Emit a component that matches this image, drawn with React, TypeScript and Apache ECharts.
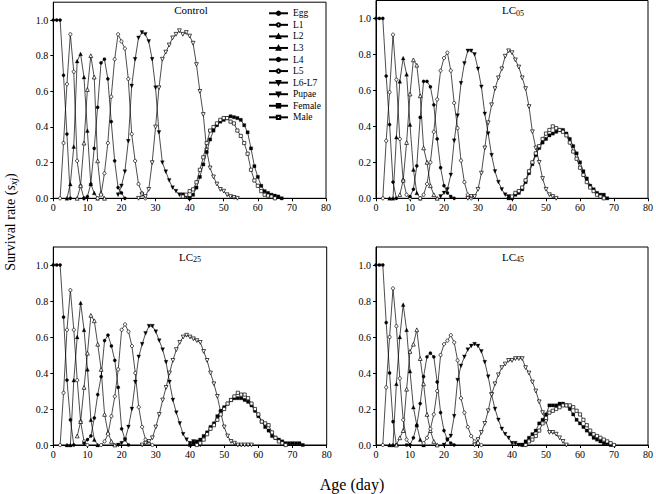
import React, { useEffect, useRef } from "react";
import * as echarts from "echarts";

const FONT = "Liberation Serif";

const stages = ["Egg", "L1", "L2", "L3", "L4", "L5", "L6-L7", "Pupae", "Female", "Male"];
const xTicks = [0, 10, 20, 30, 40, 50, 60, 70, 80];
const yTicks = [0, 0.2, 0.4, 0.6, 0.8, 1.0];

// ---- Control (first day of each stage's series, then daily values) ----
const controlStart = [0, 2, 4, 7, 9, 13, 19, 25, 40, 38];
const controlEgg = [1, 1, 1, 0.69, 0.36, 0];
const controlL1 = [0, 0.31, 0.64, 0.92, 0.71, 0.21, 0.07, 0];
const controlL2 = [0, 0.08, 0.29, 0.77, 0.81, 0.68, 0.38, 0.08, 0.03, 0];
const controlL3 = [0, 0.07, 0.31, 0.61, 0.8, 0.68, 0.21, 0.03, 0];
const controlL4 = [0, 0.01, 0.08, 0.28, 0.51, 0.76, 0.78, 0.67, 0.43, 0.21, 0.06, 0.03, 0];
const controlL5 = [0, 0.02, 0.14, 0.31, 0.57, 0.78, 0.92, 0.88, 0.84, 0.67, 0.36, 0.21, 0.08, 0.03, 0];
const controlL6 = [0.02, 0.07, 0.15, 0.32, 0.63, 0.78, 0.9, 0.93, 0.92, 0.88, 0.78, 0.62, 0.37, 0.2, 0.15, 0.1, 0.06, 0.04, 0.02, 0.02, 0.01, 0];
const controlPupae = [0, 0.02, 0.01, 0.05, 0.2, 0.4, 0.62, 0.78, 0.82, 0.86, 0.9, 0.92, 0.94, 0.92, 0.93, 0.91, 0.87, 0.75, 0.6, 0.47, 0.27, 0.17, 0.12, 0.08, 0.05, 0.04, 0.02, 0.01, 0.005, 0];
const controlFemale = [0, 0.02, 0.06, 0.12, 0.19, 0.26, 0.33, 0.38, 0.41, 0.43, 0.44, 0.45, 0.46, 0.455, 0.45, 0.44, 0.41, 0.37, 0.28, 0.18, 0.12, 0.07, 0.04, 0.03, 0.02, 0.015, 0.01, 0];
const controlMale = [0.01, 0.02, 0.04, 0.05, 0.09, 0.16, 0.23, 0.31, 0.38, 0.4, 0.42, 0.44, 0.45, 0.45, 0.43, 0.42, 0.38, 0.35, 0.31, 0.25, 0.16, 0.1, 0.07, 0.04, 0.02, 0.015, 0.01, 0];

// ---- LC05 ----
const lc05Start = [0, 2, 4, 7, 10, 13, 19, 27, 39, 40];
const lc05Egg = [1, 1, 1, 0.68, 0.41, 0.09, 0];
const lc05L1 = [0, 0.32, 0.59, 0.91, 0.66, 0.33, 0.1, 0.02, 0];
const lc05L2 = [0, 0, 0.34, 0.65, 0.78, 0.69, 0.41, 0.16, 0.03, 0];
const lc05L3 = [0.02, 0.1, 0.31, 0.58, 0.77, 0.74, 0.57, 0.28, 0.2, 0.07, 0.02, 0];
const lc05L4 = [0.01, 0.05, 0.18, 0.45, 0.65, 0.65, 0.62, 0.52, 0.33, 0.17, 0.07, 0.03, 0.01, 0];
const lc05L5 = [0, 0.02, 0.08, 0.2, 0.37, 0.55, 0.71, 0.78, 0.81, 0.71, 0.53, 0.39, 0.21, 0.09, 0.02, 0];
const lc05L6 = [0.01, 0.03, 0.05, 0.13, 0.32, 0.46, 0.64, 0.75, 0.82, 0.82, 0.8, 0.72, 0.62, 0.47, 0.36, 0.24, 0.15, 0.09, 0.05, 0.02, 0.01, 0];
const lc05Pupae = [0, 0.01, 0.01, 0.05, 0.14, 0.28, 0.42, 0.52, 0.61, 0.67, 0.72, 0.79, 0.82, 0.81, 0.77, 0.73, 0.67, 0.61, 0.51, 0.37, 0.28, 0.2, 0.11, 0.05, 0.02, 0.01, 0];
const lc05Female = [0, 0, 0.02, 0.03, 0.05, 0.09, 0.14, 0.19, 0.24, 0.28, 0.31, 0.33, 0.35, 0.36, 0.37, 0.38, 0.38, 0.36, 0.33, 0.29, 0.25, 0.2, 0.15, 0.11, 0.07, 0.05, 0.03, 0.02, 0.02, 0];
const lc05Male = [0.01, 0.03, 0.04, 0.06, 0.1, 0.15, 0.2, 0.25, 0.29, 0.33, 0.36, 0.38, 0.4, 0.39, 0.38, 0.37, 0.35, 0.31, 0.26, 0.22, 0.17, 0.13, 0.09, 0.06, 0.04, 0.02, 0.01, 0];

// ---- LC25 ----
const lc25Start = [0, 2, 4, 7, 9, 14, 19, 26, 40, 42];
const lc25Egg = [1, 1, 1, 0.71, 0.36, 0.14, 0];
const lc25L1 = [0, 0.29, 0.64, 0.86, 0.64, 0.36, 0.13, 0.02, 0];
const lc25L2 = [0, 0, 0.36, 0.6, 0.79, 0.64, 0.42, 0.14, 0.03, 0];
const lc25L3 = [0.05, 0.13, 0.32, 0.51, 0.72, 0.69, 0.56, 0.42, 0.17, 0.07, 0.02, 0];
const lc25L4 = [0.01, 0.03, 0.05, 0.15, 0.28, 0.38, 0.58, 0.61, 0.55, 0.47, 0.32, 0.09, 0.03, 0];
const lc25L5 = [0, 0.02, 0.06, 0.16, 0.27, 0.42, 0.64, 0.67, 0.63, 0.55, 0.4, 0.21, 0.1, 0.03, 0.01, 0];
const lc25L6 = [0, 0.01, 0.03, 0.1, 0.2, 0.35, 0.49, 0.56, 0.62, 0.66, 0.66, 0.63, 0.58, 0.53, 0.46, 0.35, 0.25, 0.18, 0.12, 0.06, 0.03, 0.01, 0.02, 0.01, 0];
const lc25Pupae = [0, 0.01, 0.02, 0.04, 0.1, 0.17, 0.25, 0.32, 0.4, 0.47, 0.53, 0.57, 0.6, 0.61, 0.6, 0.59, 0.58, 0.57, 0.52, 0.47, 0.4, 0.34, 0.27, 0.18, 0.1, 0.05, 0.02, 0.01, 0, 0, 0, 0, 0];
const lc25Female = [0, 0.01, 0.02, 0.03, 0.05, 0.07, 0.1, 0.12, 0.16, 0.19, 0.21, 0.23, 0.25, 0.26, 0.26, 0.26, 0.25, 0.24, 0.22, 0.19, 0.16, 0.13, 0.1, 0.08, 0.05, 0.04, 0.03, 0.02, 0.01, 0.01, 0.01, 0.01, 0.01, 0];
const lc25Male = [0, 0.01, 0.03, 0.06, 0.09, 0.11, 0.14, 0.17, 0.2, 0.23, 0.25, 0.27, 0.29, 0.28, 0.28, 0.26, 0.23, 0.2, 0.17, 0.13, 0.12, 0.11, 0.07, 0.04, 0.02, 0.01, 0];

// ---- LC45 ----
const lc45Start = [0, 2, 4, 6, 9, 14, 20, 29, 43, 44];
const lc45Egg = [1, 1, 1, 0.68, 0.4, 0.13, 0];
const lc45L1 = [0, 0.32, 0.6, 0.87, 0.66, 0.37, 0.14, 0.03, 0];
const lc45L2 = [0, 0, 0.34, 0.6, 0.78, 0.64, 0.41, 0.21, 0.11, 0.03, 0];
const lc45L3 = [0, 0.04, 0.08, 0.31, 0.52, 0.56, 0.64, 0.48, 0.34, 0.17, 0.08, 0.02, 0];
const lc45L4 = [0, 0, 0.04, 0.11, 0.23, 0.38, 0.49, 0.51, 0.49, 0.35, 0.18, 0.08, 0.03, 0.01, 0];
const lc45L5 = [0.01, 0.04, 0.09, 0.17, 0.3, 0.5, 0.56, 0.58, 0.61, 0.57, 0.47, 0.26, 0.18, 0.1, 0.05, 0.02, 0.01, 0];
const lc45L6 = [0, 0.03, 0.05, 0.16, 0.36, 0.44, 0.49, 0.53, 0.55, 0.56, 0.55, 0.52, 0.46, 0.38, 0.28, 0.2, 0.14, 0.09, 0.06, 0.04, 0.01, 0.01, 0, 0, 0];
const lc45Pupae = [0, 0.03, 0.07, 0.12, 0.19, 0.28, 0.34, 0.39, 0.43, 0.45, 0.47, 0.47, 0.48, 0.48, 0.48, 0.43, 0.4, 0.35, 0.3, 0.24, 0.18, 0.13, 0.07, 0.07, 0.06, 0.04, 0.02, 0];
const lc45Female = [0, 0.02, 0.04, 0.06, 0.08, 0.12, 0.14, 0.17, 0.22, 0.22, 0.22, 0.23, 0.23, 0.22, 0.2, 0.17, 0.14, 0.12, 0.1, 0.08, 0.06, 0.04, 0.03, 0.02, 0.01, 0.01, 0];
const lc45Male = [0, 0.02, 0.03, 0.05, 0.08, 0.12, 0.15, 0.18, 0.19, 0.2, 0.21, 0.22, 0.22, 0.22, 0.21, 0.19, 0.17, 0.14, 0.11, 0.08, 0.06, 0.05, 0.04, 0.03, 0.02, 0.01, 0];

const panels = [
  { start: controlStart, values: [controlEgg, controlL1, controlL2, controlL3, controlL4, controlL5, controlL6, controlPupae, controlFemale, controlMale] },
  { start: lc05Start, values: [lc05Egg, lc05L1, lc05L2, lc05L3, lc05L4, lc05L5, lc05L6, lc05Pupae, lc05Female, lc05Male] },
  { start: lc25Start, values: [lc25Egg, lc25L1, lc25L2, lc25L3, lc25L4, lc25L5, lc25L6, lc25Pupae, lc25Female, lc25Male] },
  { start: lc45Start, values: [lc45Egg, lc45L1, lc45L2, lc45L3, lc45L4, lc45L5, lc45L6, lc45Pupae, lc45Female, lc45Male] },
];

// marker styles per stage
const markers = [
  { symbol: "circle", filled: true, rotate: 0 },
  { symbol: "circle", filled: false, rotate: 0 },
  { symbol: "triangle", filled: true, rotate: 0 },
  { symbol: "triangle", filled: false, rotate: 0 },
  { symbol: "circle", filled: true, rotate: 0 },
  { symbol: "circle", filled: false, rotate: 0 },
  { symbol: "triangle", filled: true, rotate: 180 },
  { symbol: "triangle", filled: false, rotate: 180 },
  { symbol: "rect", filled: true, rotate: 0 },
  { symbol: "rect", filled: false, rotate: 0 },
];

const grids = [
  { left: 53.3, top: 2.2, width: 272.7, height: 196.1 },
  { left: 376, top: 0.5, width: 275.5, height: 197.8 },
  { left: 53.3, top: 247, width: 273.4, height: 198 },
  { left: 376, top: 247, width: 275, height: 198 },
];

type Seg = { text: string; size: number; italic?: boolean; dy?: number };

let measureCtx: CanvasRenderingContext2D | null = null;
function measure(s: Seg) {
  if (!measureCtx) measureCtx = document.createElement("canvas").getContext("2d");
  if (!measureCtx) return s.text.length * s.size * 0.5;
  measureCtx.font = `${s.italic ? "italic " : ""}${s.size}px "${FONT}"`;
  return measureCtx.measureText(s.text).width;
}

function segText(segs: Seg[], cx: number, cy: number, rotation = 0) {
  const widths = segs.map(measure);
  const total = widths.reduce((a, b) => a + b, 0);
  let x = -total / 2;
  const children = segs.map((s, i) => {
    const el = {
      type: "text",
      x,
      y: s.dy || 0,
      silent: true,
      style: {
        text: s.text,
        fontFamily: FONT,
        fontSize: s.size,
        fontStyle: s.italic ? "italic" : "normal",
        fontWeight: "normal",
        fill: "#000",
        align: "left",
        verticalAlign: "middle",
      },
    };
    x += widths[i];
    return el;
  });
  return { type: "group", x: cx, y: cy, rotation, silent: true, children };
}

function buildOption() {
  const series: any[] = [];
  panels.forEach((p, pi) => {
    p.values.forEach((vals, si) => {
      const m = markers[si];
      series.push({
        type: "line",
        name: stages[si],
        xAxisIndex: pi,
        yAxisIndex: pi,
        data: vals.map((v, i) => [p.start[si] + i, v]),
        symbol: m.symbol,
        symbolSize: m.symbol === "triangle" ? 3.8 : 3.2,
        symbolRotate: m.rotate,
        showSymbol: true,
        showAllSymbol: true,
        lineStyle: { color: "#000", width: 0.7 },
        itemStyle: m.filled
          ? { color: "#000", borderColor: "#000", borderWidth: 0.3 }
          : { color: "#fff", borderColor: "#000", borderWidth: 0.7 },
        emphasis: { disabled: true },
        silent: true,
        clip: false,
        z: 3,
      });
    });
  });

  const axisText = { color: "#000", fontFamily: FONT, fontSize: 10, fontWeight: "normal" };

  return {
    animation: false,
    backgroundColor: "#fff",
    grid: grids.map((g) => ({ ...g, show: true, borderColor: "#000", borderWidth: 1, backgroundColor: "transparent", containLabel: false })),
    xAxis: grids.map((_, i) => ({
      type: "value",
      gridIndex: i,
      min: 0,
      max: 80,
      interval: 10,
      axisLine: { show: true, onZero: false, lineStyle: { color: "#000", width: 1 } },
      axisTick: { show: true, inside: false, length: 3, lineStyle: { color: "#000", width: 1 }, customValues: xTicks },
      axisLabel: { ...axisText, margin: 4, customValues: xTicks },
      splitLine: { show: false },
    })),
    yAxis: grids.map((_, i) => ({
      type: "value",
      gridIndex: i,
      min: 0,
      max: 1.1,
      axisLine: { show: true, onZero: false, lineStyle: { color: "#000", width: 1 } },
      axisTick: { show: true, inside: false, length: 3, lineStyle: { color: "#000", width: 1 }, customValues: yTicks },
      axisLabel: { ...axisText, margin: 5, customValues: yTicks, formatter: (v: number) => v.toFixed(1) },
      splitLine: { show: false },
    })),
    legend: {
      data: stages,
      orient: "vertical",
      left: 268,
      top: 7.5,
      itemWidth: 19,
      itemHeight: 4.2,
      itemGap: 0,
      selectedMode: false,
      padding: 0,
      textStyle: { color: "#000", fontFamily: FONT, fontSize: 9.5, fontWeight: "normal", lineHeight: 11.56 },
    },
    graphic: [
      segText([{ text: "Control", size: 11 }], 191, 9.5),
      segText([{ text: "LC", size: 11 }, { text: "05", size: 8, dy: 3 }], 513, 10),
      segText([{ text: "LC", size: 11 }, { text: "25", size: 8, dy: 3 }], 190, 256.5),
      segText([{ text: "LC", size: 11 }, { text: "45", size: 8, dy: 3 }], 513, 256.5),
      segText(
        [
          { text: "Survival rate (", size: 14 },
          { text: "s", size: 14, italic: true },
          { text: "xj", size: 10, italic: true, dy: 3 },
          { text: ")", size: 14 },
        ],
        10,
        222,
        Math.PI / 2
      ),
      segText([{ text: "Age (day)", size: 16 }], 352, 484),
    ],
    series,
  };
}

export default function App() {
  const ref = useRef<HTMLDivElement>(null);
  useEffect(() => {
    if (!ref.current) return;
    const chart = echarts.init(ref.current, null, { renderer: "svg" });
    chart.setOption(buildOption() as any);
    return () => chart.dispose();
  }, []);
  return (
    <div
      ref={ref}
      style={{ position: "fixed", left: 0, top: 0, width: 656, height: 494, background: "#fff" }}
    />
  );
}
